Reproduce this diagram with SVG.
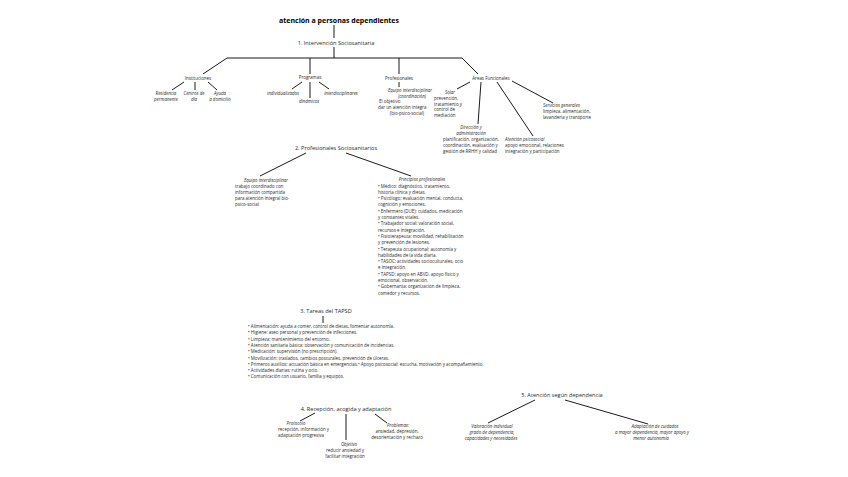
<svg xmlns="http://www.w3.org/2000/svg" width="848" height="477" viewBox="0 0 848 477">
<style>
text{font-family:"Open Sans","Noto Sans","Liberation Sans",sans-serif;fill:#2a2a2a;font-style:normal}
.t{font-size:7px;font-weight:bold;fill:#000}
.h{font-size:5.6px}
.s{font-size:4.45px}
.i{font-style:italic}
.m{text-anchor:middle}
.c line{stroke:#000;stroke-width:0.9;fill:none}
</style>
<rect width="848" height="477" fill="#fff"/>
<g class="c" id="connectors">
<line x1="334" y1="25" x2="334" y2="38"/>
<line x1="334" y1="47" x2="334" y2="58"/>
<line x1="227" y1="58" x2="462" y2="58"/>
<line x1="227" y1="58" x2="203" y2="74"/>
<line x1="310" y1="58" x2="310" y2="74"/>
<line x1="399" y1="58" x2="399" y2="74"/>
<line x1="462" y1="58" x2="478" y2="74"/>
<line x1="184" y1="82" x2="172" y2="90"/>
<line x1="195" y1="82" x2="195" y2="90"/>
<line x1="208" y1="82" x2="217" y2="90"/>
<line x1="302" y1="82" x2="292" y2="89"/>
<line x1="310" y1="82" x2="310" y2="98"/>
<line x1="319" y1="82" x2="329" y2="89"/>
<line x1="399" y1="82" x2="399" y2="87"/>
<line x1="470" y1="82" x2="457" y2="89"/>
<line x1="481" y1="82" x2="478" y2="124"/>
<line x1="497" y1="82" x2="533" y2="136"/>
<line x1="512" y1="81" x2="553" y2="103"/>
<line x1="306" y1="153" x2="260" y2="176"/>
<line x1="346" y1="153" x2="411" y2="176"/>
<line x1="323" y1="316" x2="323" y2="323"/>
<line x1="315" y1="413" x2="300" y2="421"/>
<line x1="346" y1="414" x2="346" y2="440"/>
<line x1="375" y1="414" x2="387" y2="423"/>
<line x1="535" y1="400" x2="488" y2="423"/>
<line x1="565" y1="400" x2="648" y2="424"/>
</g>
<g id="title"><text class="t m" x="339" y="23">atención a personas dependientes</text></g>
<g id="s1"><text class="h m" x="336" y="45">1. Intervención Sociosanitaria</text></g>
<g id="instituciones"><text class="s m" x="198" y="80">Instituciones</text></g>
<g id="residencia"><text class="s i m" x="166" y="95">Residencia<tspan x="166" dy="6">permanente</tspan></text></g>
<g id="centros"><text class="s i m" x="194" y="95">Centros de<tspan x="194" dy="6">día</tspan></text></g>
<g id="ayuda"><text class="s i m" x="220" y="95">Ayuda<tspan x="220" dy="6">a domicilio</tspan></text></g>
<g id="programas"><text class="s m" x="310" y="79">Programas</text></g>
<g id="individualizados"><text class="s i m" x="283" y="95">individualizados</text></g>
<g id="dinamicos"><text class="s i m" x="309" y="103">dinámicos</text></g>
<g id="interdisciplinares"><text class="s i m" x="341" y="95">interdisciplinares</text></g>
<g id="profesionales"><text class="s m" x="399" y="80">Profesionales</text></g>
<g id="equipo1"><text class="s i m" x="410" y="92">Equipo interdisciplinar<tspan x="412" dy="5.5">(coordinación)</tspan></text><text class="s" x="379" y="103">El objetivo<tspan x="378" dy="6">dar un atención integra</tspan></text><text class="s m" x="407" y="115">(bio-psico-social)</text></g>
<g id="areas"><text class="s m" x="491" y="80">Áreas Funcionales</text></g>
<g id="solar"><text class="s i m" x="450" y="94">Solar</text><text class="s" x="434" y="100">prevención,<tspan x="434" dy="5.6">tratamiento y</tspan><tspan x="434" dy="5.6">control de</tspan><tspan x="434" dy="5.6">mediación</tspan></text></g>
<g id="direccion"><text class="s i m" x="471" y="129">Dirección y<tspan x="471" dy="6">administración</tspan></text><text class="s" x="443" y="141">planificación, organización,<tspan x="443" dy="6">coordinación, evaluación y</tspan><tspan x="443" dy="6">gestión de RRHH y calidad</tspan></text></g>
<g id="psicosocial"><text class="s" x="505" y="141"><tspan class="i">Atención psicosocial</tspan><tspan x="505" dy="6">apoyo emocional, relaciones</tspan><tspan x="505" dy="6">integración y participación</tspan></text></g>
<g id="servicios"><text class="s" x="543" y="107"><tspan class="i">Servicios generales</tspan><tspan x="543" dy="6">limpieza, alimentación,</tspan><tspan x="543" dy="6">lavandería y transporte</tspan></text></g>
<g id="s2"><text class="h m" x="336" y="150">2. Profesionales Sociosanitarios</text></g>
<g id="equipo2"><text class="s i m" x="266" y="182">Equipo interdisciplinar</text><text class="s" x="235" y="188">trabajo coordinado con<tspan x="235" dy="6">información compartida</tspan><tspan x="235" dy="6">para atención integral bio-</tspan><tspan x="235" dy="6">psico-social</tspan></text></g>
<g id="principios"><text class="s i m" x="422" y="181">Principios profesionales</text><text class="s" x="378" y="187.5">• Médico: diagnóstico, tratamiento,<tspan x="378" dy="6.3">historia clínica y dietas.</tspan><tspan x="378" dy="6.3">• Psicólogo: evaluación mental, conducta,</tspan><tspan x="378" dy="6.3">cognición y emociones.</tspan><tspan x="378" dy="6.3">• Enfermero (DUE): cuidados, medicación</tspan><tspan x="378" dy="6.3">y constantes vitales.</tspan><tspan x="378" dy="6.3">• Trabajador social: valoración social,</tspan><tspan x="378" dy="6.3">recursos e integración.</tspan><tspan x="378" dy="6.3">• Fisioterapeuta: movilidad, rehabilitación</tspan><tspan x="378" dy="6.3">y prevención de lesiones.</tspan><tspan x="378" dy="6.3">• Terapeuta ocupacional: autonomía y</tspan><tspan x="378" dy="6.3">habilidades de la vida diaria.</tspan><tspan x="378" dy="6.3">• TASOC: actividades socioculturales, ocio</tspan><tspan x="378" dy="6.3">e integración.</tspan><tspan x="378" dy="6.3">• TAPSD: apoyo en ABVD, apoyo físico y</tspan><tspan x="378" dy="6.3">emocional, observación.</tspan><tspan x="378" dy="6.3">• Gobernanta: organización de limpieza,</tspan><tspan x="378" dy="6.3">comedor y recursos.</tspan></text></g>
<g id="s3"><text class="h m" x="326" y="313">3. Tareas del TAPSD</text></g>
<g id="tareas"><text class="s" x="248" y="328">• Alimentación: ayuda a comer, control de dietas, fomentar autonomía.<tspan x="248" dy="6.3">• Higiene: aseo personal y prevención de infecciones.</tspan><tspan x="248" dy="6.3">• Limpieza: mantenimiento del entorno.</tspan><tspan x="248" dy="6.3">• Atención sanitaria básica: observación y comunicación de incidencias.</tspan><tspan x="248" dy="6.3">• Medicación: supervisión (no prescripción).</tspan><tspan x="248" dy="6.3">• Movilización: traslados, cambios posturales, prevención de úlceras.</tspan><tspan x="248" dy="6.3">• Primeros auxilios: actuación básica en emergencias.• Apoyo psicosocial: escucha, motivación y acompañamiento.</tspan><tspan x="248" dy="6.3">• Actividades diarias: rutina y ocio.</tspan><tspan x="248" dy="6.3">• Comunicación con usuario, familia y equipos.</tspan></text></g>
<g id="s4"><text class="h m" x="346" y="411">4. Recepción, acogida y adaptación</text></g>
<g id="protocolo"><text class="s i m" x="296" y="425">Protocolo</text><text class="s" x="278" y="431">recepción, información y<tspan x="278" dy="6">adaptación progresiva</tspan></text></g>
<g id="objetivo"><text class="s m" x="345" y="446"><tspan class="i" x="349">Objetivo</tspan><tspan x="345" dy="6">reducir ansiedad y</tspan><tspan x="345" dy="6">facilitar integración</tspan></text></g>
<g id="problemas"><text class="s m" x="398" y="427"><tspan class="i">Problemas:</tspan><tspan x="397" dy="6">ansiedad, depresión,</tspan><tspan x="397" dy="6">desorientación y rechazo</tspan></text></g>
<g id="s5"><text class="h m" x="562" y="397">5. Atención según dependencia</text></g>
<g id="valoracion"><text class="s i m" x="492" y="428">Valoración individual<tspan x="492" dy="6">grado de dependencia,</tspan><tspan x="491" dy="6">capacidades y necesidades</tspan></text></g>
<g id="adaptacion"><text class="s i m" x="655" y="428">Adaptación de cuidados<tspan x="652" dy="6">a mayor dependencia, mayor apoyo y</tspan><tspan x="651" dy="6">menor autonomía</tspan></text></g>
</svg>
